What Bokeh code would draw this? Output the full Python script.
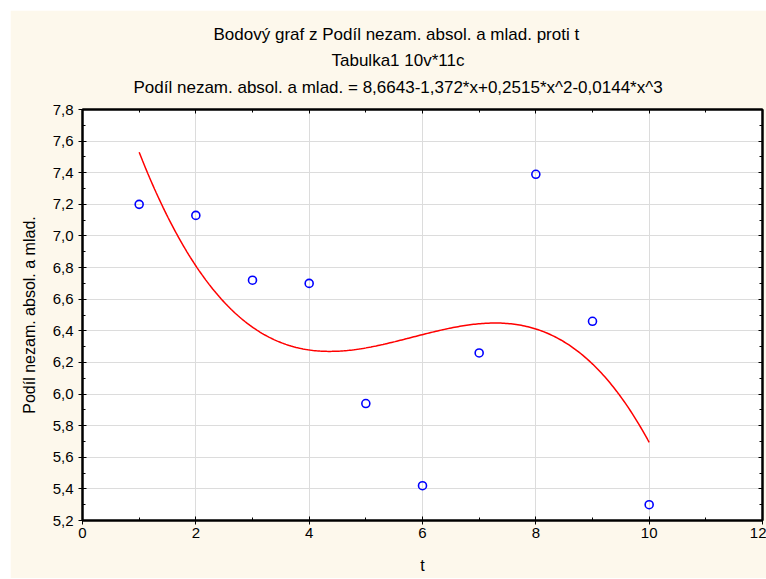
import numpy as np
from bokeh.plotting import figure
from bokeh.models import (Range1d, LinearAxis, FixedTicker,
                          CustomJSTickFormatter, Title)
from bokeh.embed import file_html
from bokeh.resources import INLINE

# Observed values
t = [1, 2, 3, 4, 5, 6, 7, 8, 9, 10]
podil = [7.20, 7.13, 6.72, 6.70, 5.94, 5.42, 6.26, 7.39, 6.46, 5.30]

# Cubic fit coefficients: b0 + b1*x + b2*x^2 + b3*x^3
fit_coef = [8.6643, -1.372, 0.2515, -0.0144]

# Axis ticks
x_ticks = [0, 2, 4, 6, 8, 10, 12]
x_minor = [1, 3, 5, 7, 9, 11]
y_ticks = [5.2, 5.4, 5.6, 5.8, 6.0, 6.2, 6.4, 6.6, 6.8, 7.0, 7.2, 7.4, 7.6, 7.8]
y_minor = [5.3, 5.5, 5.7, 5.9, 6.1, 6.3, 6.5, 6.7, 6.9, 7.1, 7.3, 7.5, 7.7]

title_lines = [
    "Bodový graf z Podíl nezam. absol. a mlad. proti t",
    "Tabulka1 10v*11c",
    "Podíl nezam. absol. a mlad. = 8,6643-1,372*x+0,2515*x^2-0,0144*x^3",
]
# left offsets (px from frame edge) that centre each line at the same spot,
# and standoffs that set the vertical rhythm of the stacked heading
title_offsets = [131, 249, 51]
title_standoffs = [24, -14, 26]
x_label = "t"
y_label = "Podíl nezam. absol. a mlad."

FONT = "Liberation Sans"
CREAM = "#FDF8EC"

p = figure(width=756, height=568,
           x_range=Range1d(0, 12), y_range=Range1d(5.2, 7.8),
           output_backend="svg", toolbar_location=None,
           min_border_left=72, min_border_right=4,
           min_border_top=98, min_border_bottom=58,
           background_fill_color="white", border_fill_color=CREAM)
p.margin = (10, 0, 0, 10)
p.outline_line_color = "black"
p.outline_line_width = 2

x_ticker = FixedTicker(ticks=x_ticks, minor_ticks=x_minor)
y_ticker = FixedTicker(ticks=y_ticks, minor_ticks=y_minor)
comma_fmt = CustomJSTickFormatter(code="return tick.toFixed(1).replace('.', ',');")
int_fmt = CustomJSTickFormatter(code="return String(Math.round(tick));")
blank_fmt = CustomJSTickFormatter(code="return '';")


def style_axis(ax, labelled):
    ax.axis_line_color = "black"
    ax.axis_line_width = 2
    ax.major_tick_line_color = "black"
    ax.minor_tick_line_color = "black"
    ax.major_tick_line_width = 1
    ax.minor_tick_line_width = 1
    ax.minor_tick_in = 3
    ax.minor_tick_out = 0
    ax.major_tick_in = 4
    if labelled:
        ax.major_tick_out = 4
        ax.major_label_text_font = FONT
        ax.major_label_text_font_size = "15px"
        ax.major_label_text_color = "black"
        ax.axis_label_text_font = FONT
        ax.axis_label_text_font_size = "16px"
        ax.axis_label_text_font_style = "normal"
        ax.axis_label_text_color = "black"
    else:
        ax.major_tick_out = 0
        ax.major_label_text_font_size = "1px"
        ax.major_label_standoff = 0


xa = p.xaxis[0]
xa.ticker = x_ticker
xa.formatter = int_fmt
xa.axis_label = x_label
style_axis(xa, True)
xa.major_label_standoff = 3
xa.axis_label_standoff = 16

ya = p.yaxis[0]
ya.ticker = y_ticker
ya.formatter = comma_fmt
ya.axis_label = y_label
style_axis(ya, True)
ya.major_label_standoff = 5
ya.axis_label_standoff = 12

top_ax = LinearAxis(ticker=x_ticker, formatter=blank_fmt)
style_axis(top_ax, False)
p.add_layout(top_ax, "above")
right_ax = LinearAxis(ticker=y_ticker, formatter=blank_fmt)
style_axis(right_ax, False)
p.add_layout(right_ax, "right")

p.xgrid.ticker = x_ticker
p.ygrid.ticker = y_ticker
p.xgrid.grid_line_color = "#DCDCDC"
p.ygrid.grid_line_color = "#DCDCDC"
p.xgrid.grid_line_width = 1
p.ygrid.grid_line_width = 1

# Fitted cubic over the observed t span
xs = np.linspace(min(t), max(t), 300)
ys = sum(c * xs ** k for k, c in enumerate(fit_coef))
p.line(xs, ys, line_color="#FF0000", line_width=1.5)

p.scatter(t, podil, marker="circle", size=8, fill_color=None,
          line_color="#0000FF", line_width=1.6)

# Three-line heading; panels stack outward, so add the bottom line first
for txt, off, so in reversed(list(zip(title_lines, title_offsets, title_standoffs))):
    p.add_layout(Title(text=txt, align="left", offset=off, standoff=so,
                       text_font=FONT, text_font_size="17px",
                       text_font_style="normal", text_color="black"), "above")

open("out.html", "w").write(file_html(p, INLINE))
